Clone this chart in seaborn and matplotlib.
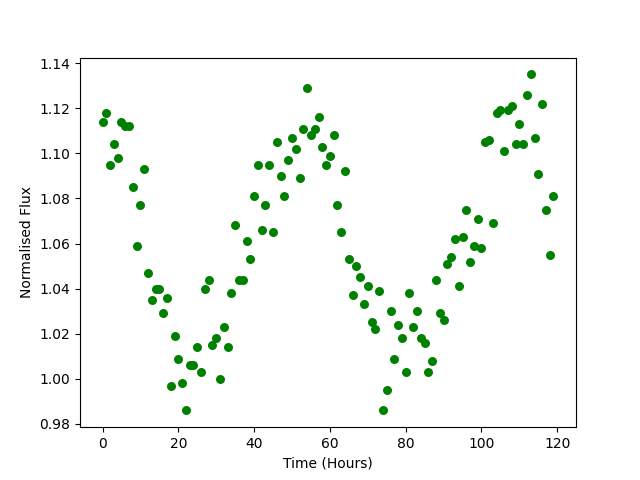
import pandas as pd
import seaborn as sns
import matplotlib.pyplot as plt

hours = list(range(120))
flux = [
    1.114, 1.118, 1.095, 1.104, 1.098, 1.114, 1.112, 1.112, 1.085, 1.059,
    1.077, 1.093, 1.047, 1.035, 1.040, 1.040, 1.029, 1.036, 0.997, 1.019,
    1.009, 0.998, 0.986, 1.006, 1.006, 1.014, 1.003, 1.040, 1.044, 1.015,
    1.018, 1.000, 1.023, 1.014, 1.038, 1.068, 1.044, 1.044, 1.061, 1.053,
    1.081, 1.095, 1.066, 1.077, 1.095, 1.065, 1.105, 1.090, 1.081, 1.097,
    1.107, 1.102, 1.089, 1.111, 1.129, 1.108, 1.111, 1.116, 1.103, 1.095,
    1.099, 1.108, 1.077, 1.065, 1.092, 1.053, 1.037, 1.050, 1.045, 1.033,
    1.041, 1.025, 1.022, 1.039, 0.986, 0.995, 1.030, 1.009, 1.024, 1.018,
    1.003, 1.038, 1.023, 1.030, 1.018, 1.016, 1.003, 1.008, 1.044, 1.029,
    1.026, 1.051, 1.054, 1.062, 1.041, 1.063, 1.075, 1.052, 1.059, 1.071,
    1.058, 1.105, 1.106, 1.069, 1.118, 1.119, 1.101, 1.119, 1.121, 1.104,
    1.113, 1.104, 1.126, 1.135, 1.107, 1.091, 1.122, 1.075, 1.055, 1.081,
]

df = pd.DataFrame({"hours": hours, "flux": flux})

fig, ax = plt.subplots(figsize=(6.4, 4.8), dpi=100)
sns.scatterplot(data=df, x="hours", y="flux", color="green", s=42,
                linewidth=0, ax=ax)
ax.set_xlabel("Time (Hours)")
ax.set_ylabel("Normalised Flux")
ax.set_xticks([0, 20, 40, 60, 80, 100, 120])
ax.set_yticks([0.98, 1.00, 1.02, 1.04, 1.06, 1.08, 1.10, 1.12, 1.14])

plt.savefig("out.png", dpi=100)
